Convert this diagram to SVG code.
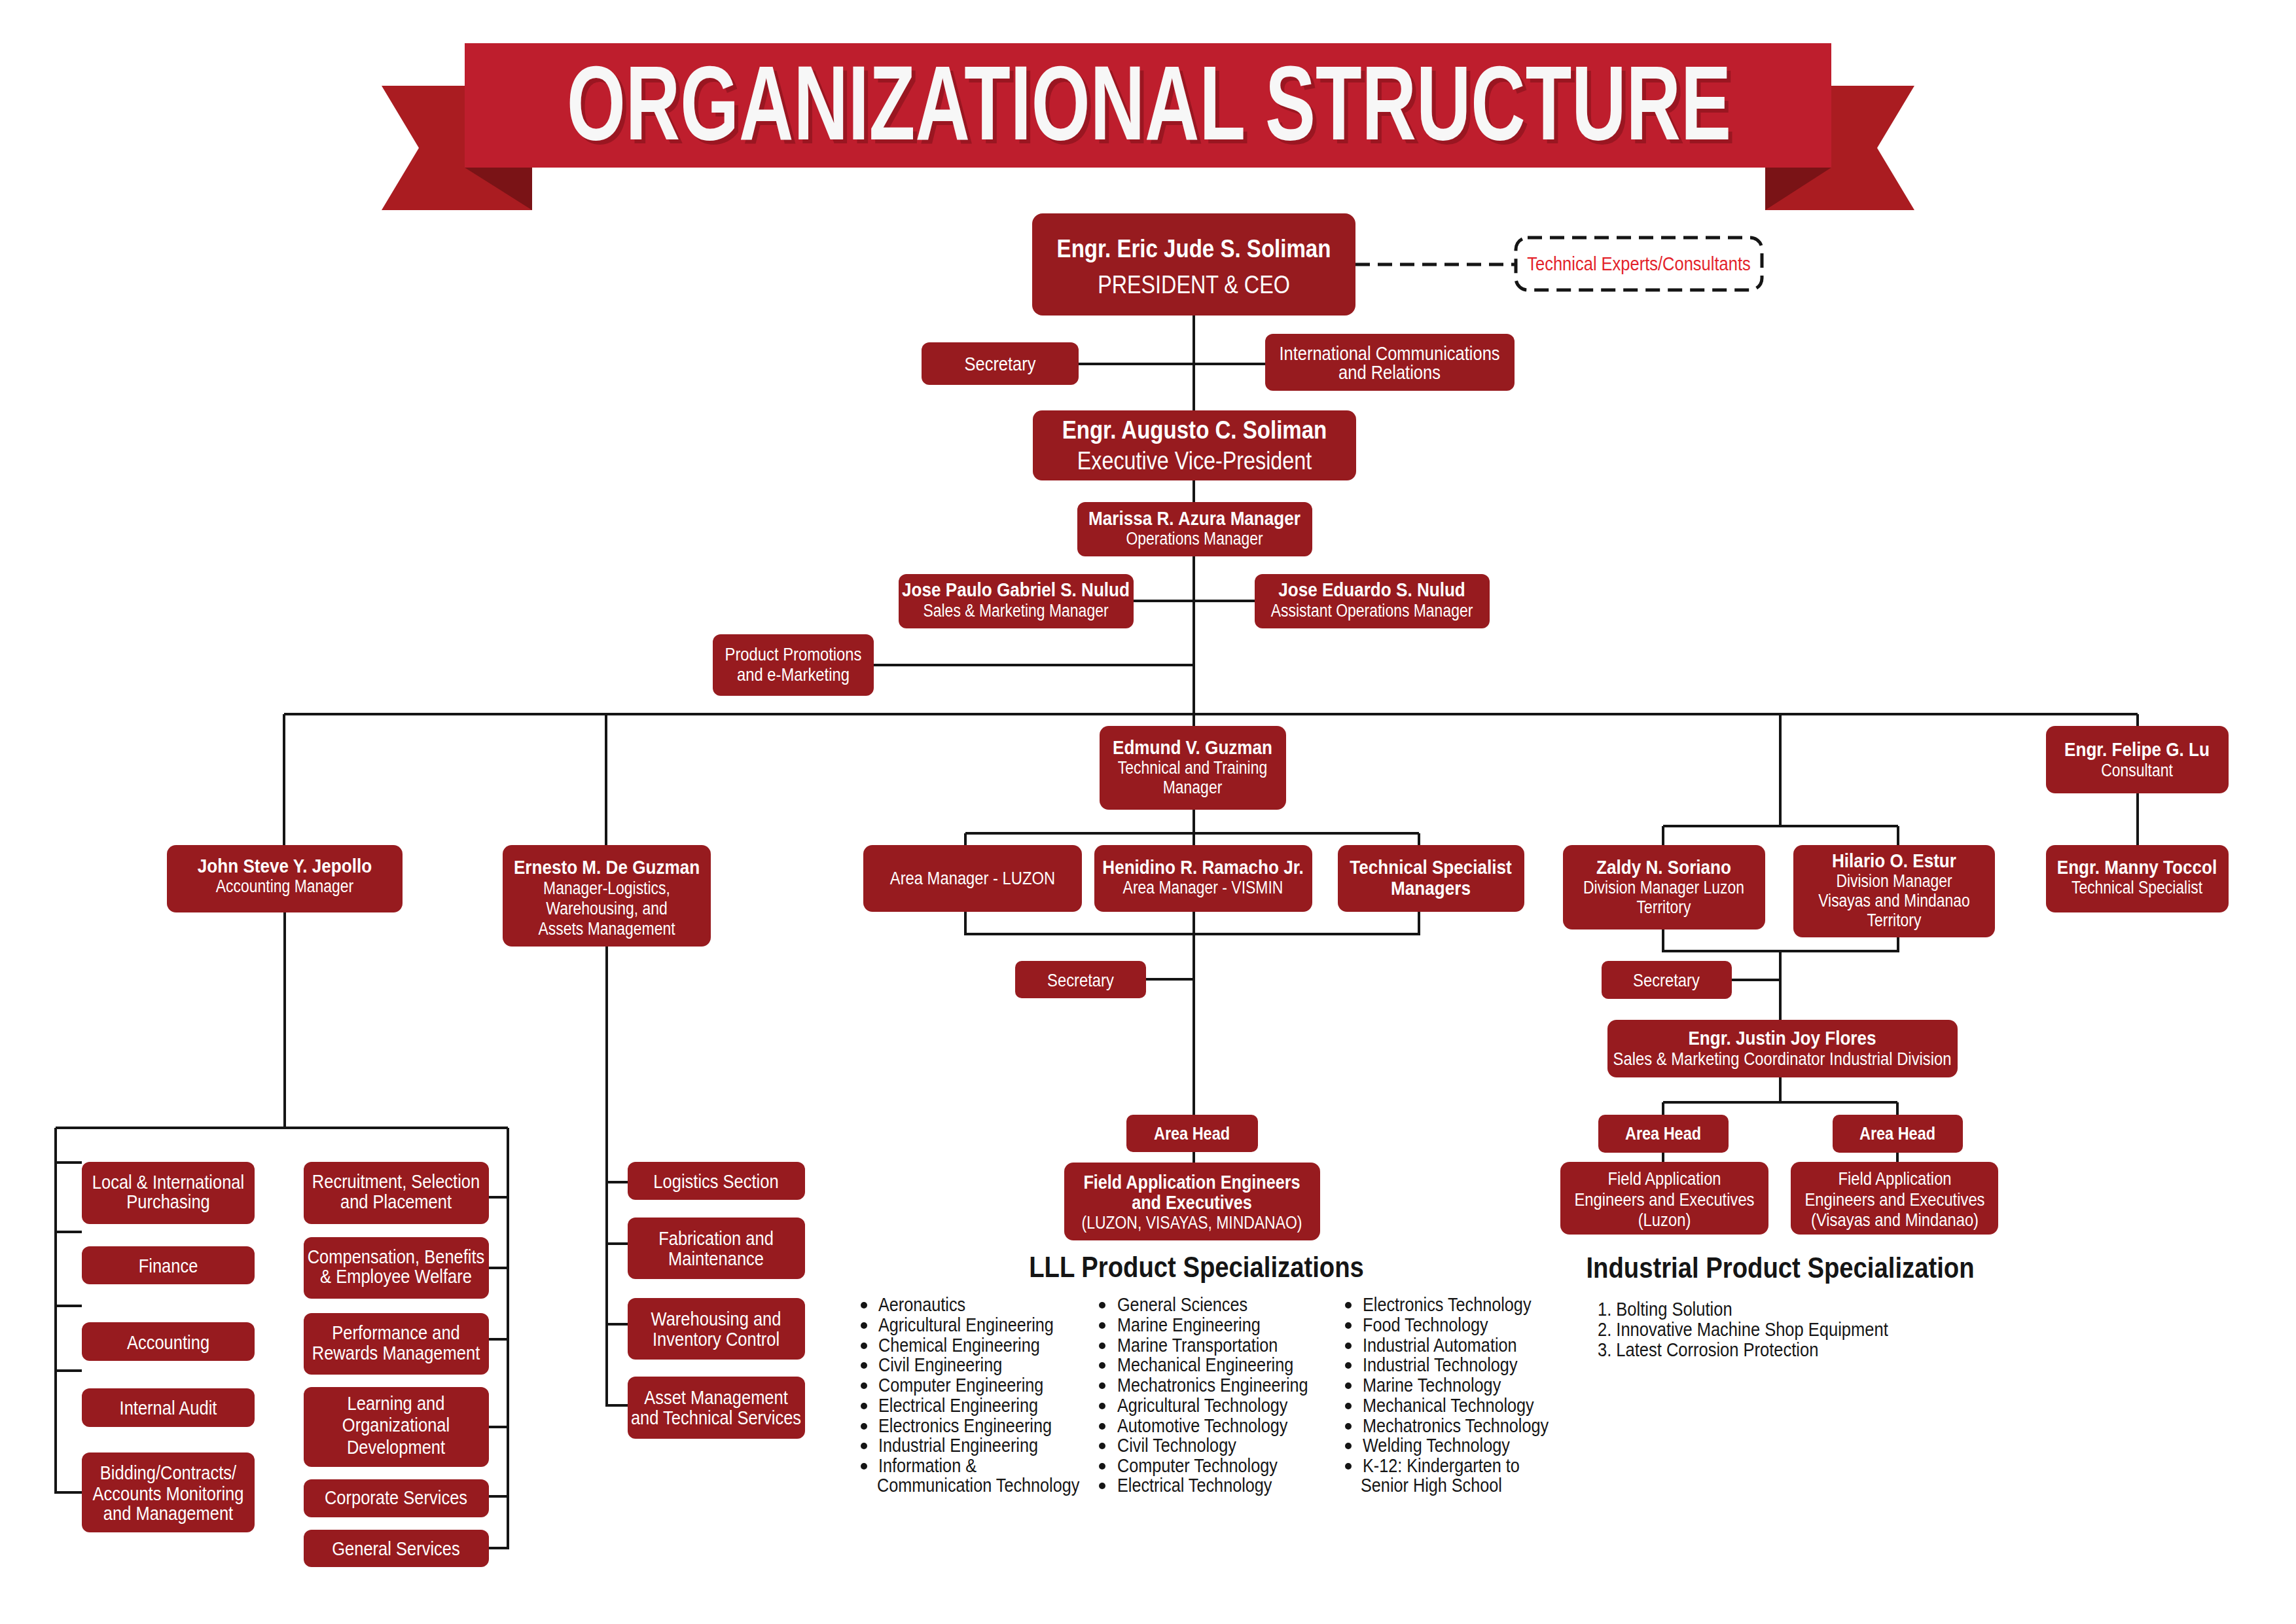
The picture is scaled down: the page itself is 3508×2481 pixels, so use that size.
<svg xmlns="http://www.w3.org/2000/svg" width="3508" height="2481" viewBox="0 0 3508 2481">
<style>
text{font-family:"Liberation Sans",Arial,sans-serif;fill:#fff;text-anchor:middle}
.b{font-weight:700}
.k{fill:#151515}
.s{text-anchor:start}
.n{fill:#971b1f}
.c{fill:none;stroke:#151515;stroke-width:4}
.d{fill:none;stroke:#151515;stroke-width:5;stroke-dasharray:22 12}
</style>
<rect width="3508" height="2481" fill="#fff"/>
<g id="banner">
<polygon points="583,131 813,131 813,321 583,321 640,226" fill="#aa1c21"/>
<polygon points="2925,131 2697,131 2697,321 2925,321 2868,226" fill="#aa1c21"/>
<polygon points="710,256 813,256 813,321" fill="#7a1316"/>
<polygon points="2798,256 2697,256 2697,321" fill="#7a1316"/>
<rect x="710" y="66" width="2088" height="190" fill="#be1e2d"/>
<text x="872" y="219" class="b s" font-size="162" textLength="1779" lengthAdjust="spacingAndGlyphs" style="fill:#7d1019;opacity:.55">ORGANIZATIONAL STRUCTURE</text>
<text x="866" y="213" class="b s" font-size="162" textLength="1779" lengthAdjust="spacingAndGlyphs" style="fill:#f7f7f7">ORGANIZATIONAL STRUCTURE</text>
</g>
<g id="connectors">
<path class="d" d="M2071 404 H2316"/>
<path class="c" d="M1824 482 V627 M1648 556 H1933 M1824 734 V1109 M1732 918 H1917 M1335 1016 H1824"/>
<path class="c" d="M434 1091 H3266 M434 1091 V1291 M926 1091 V1291 M2720 1091 V1262 M2541 1262 H2900 M2541 1262 V1291 M2900 1262 V1291 M3266 1091 V1291"/>
<path class="c" d="M1475 1273 H2168 M1475 1273 V1291 M1824 1237 V1291 M2168 1273 V1291 M1475 1393 V1427 H2168 V1393 M1824 1393 V1776 M1751 1496 H1824"/>
<path class="c" d="M2541 1420 V1453 H2900 V1432 M2720 1453 V1558 M2646 1497 H2720 M2720 1646 V1684 M2541 1684 H2899 M2541 1684 V1775 M2899 1684 V1775"/>
<path class="c" d="M927 1446 V2147 H959 M927 1806 H959 M927 1900 H959 M927 2023 H959"/>
<path class="c" d="M435 1394 V1723 M85 1723 H776 M85 1723 V2280 H125 M85 1776 H125 M85 1882 H125 M85 1995 H125 M85 2094 H125 M776 1723 V2365 H747 M747 1829 H776 M747 1937 H776 M747 2046 H776 M747 2180 H776 M747 2286 H776"/>
</g>
<g id="n-president"><rect class="n" x="1577" y="326" width="494" height="156" rx="16"/>
<text class="b" font-size="38" transform="matrix(.87 0 0 1 1824 393)">Engr. Eric Jude S. Soliman</text>
<text font-size="38" transform="matrix(.85 0 0 1 1824 448)">PRESIDENT &amp; CEO</text></g>
<g id="n-experts"><rect x="2316" y="363" width="376" height="80" rx="18" class="d"/>
<text font-size="30" style="fill:#e3232b" transform="matrix(.85 0 0 1 2504 413)">Technical Experts/Consultants</text></g>
<g id="n-secretary1"><rect class="n" x="1408" y="523" width="240" height="65" rx="12"/>
<text font-size="30" transform="matrix(.85 0 0 1 1528 566)">Secretary</text></g>
<g id="n-icr"><rect class="n" x="1933" y="510" width="381" height="87" rx="12"/>
<text font-size="30" transform="matrix(.85 0 0 1 2123 550)">International Communications</text>
<text font-size="30" transform="matrix(.85 0 0 1 2123 579)">and Relations</text></g>
<g id="n-evp"><rect class="n" x="1578" y="627" width="494" height="107" rx="14"/>
<text class="b" font-size="38" transform="matrix(.87 0 0 1 1825 670)">Engr. Augusto C. Soliman</text>
<text font-size="38" transform="matrix(.85 0 0 1 1825 717)">Executive Vice-President</text></g>
<g id="n-marissa"><rect class="n" x="1646" y="767" width="359" height="83" rx="12"/>
<text class="b" font-size="30" transform="matrix(.87 0 0 1 1825 802)">Marissa R. Azura Manager</text>
<text font-size="27" transform="matrix(.85 0 0 1 1825 832)">Operations Manager</text></g>
<g id="n-josepaulo"><rect class="n" x="1373" y="877" width="359" height="83" rx="12"/>
<text class="b" font-size="30" transform="matrix(.87 0 0 1 1552 911)">Jose Paulo Gabriel S. Nulud</text>
<text font-size="27" transform="matrix(.85 0 0 1 1552 942)">Sales &amp; Marketing Manager</text></g>
<g id="n-joseeduardo"><rect class="n" x="1917" y="877" width="359" height="83" rx="12"/>
<text class="b" font-size="30" transform="matrix(.87 0 0 1 2096 911)">Jose Eduardo S. Nulud</text>
<text font-size="27" transform="matrix(.85 0 0 1 2096 942)">Assistant Operations Manager</text></g>
<g id="n-product"><rect class="n" x="1089" y="969" width="246" height="94" rx="12"/>
<text font-size="28" transform="matrix(.85 0 0 1 1212 1009)">Product Promotions</text>
<text font-size="28" transform="matrix(.85 0 0 1 1212 1040)">and e-Marketing</text></g>
<g id="n-john"><rect class="n" x="255" y="1291" width="360" height="103" rx="14"/>
<text class="b" font-size="30" transform="matrix(.87 0 0 1 435 1333)">John Steve Y. Jepollo</text>
<text font-size="27" transform="matrix(.85 0 0 1 435 1363)">Accounting Manager</text></g>
<g id="n-ernesto"><rect class="n" x="768" y="1291" width="318" height="155" rx="14"/>
<text class="b" font-size="30" transform="matrix(.87 0 0 1 927 1335)">Ernesto M. De Guzman</text>
<text font-size="27" transform="matrix(.85 0 0 1 927 1366)">Manager-Logistics,</text>
<text font-size="27" transform="matrix(.85 0 0 1 927 1397)">Warehousing, and</text>
<text font-size="27" transform="matrix(.85 0 0 1 927 1428)">Assets Management</text></g>
<g id="n-edmund"><rect class="n" x="1680" y="1109" width="285" height="128" rx="14"/>
<text class="b" font-size="30" transform="matrix(.87 0 0 1 1822 1152)">Edmund V. Guzman</text>
<text font-size="27" transform="matrix(.85 0 0 1 1822 1182)">Technical and Training</text>
<text font-size="27" transform="matrix(.85 0 0 1 1822 1212)">Manager</text></g>
<g id="n-luzon"><rect class="n" x="1319" y="1291" width="334" height="102" rx="14"/>
<text font-size="28" transform="matrix(.85 0 0 1 1486 1351)">Area Manager - LUZON</text></g>
<g id="n-henidino"><rect class="n" x="1672" y="1291" width="333" height="102" rx="14"/>
<text class="b" font-size="30" transform="matrix(.87 0 0 1 1838 1335)">Henidino R. Ramacho Jr.</text>
<text font-size="27" transform="matrix(.85 0 0 1 1838 1365)">Area Manager - VISMIN</text></g>
<g id="n-tsm"><rect class="n" x="2044" y="1291" width="285" height="102" rx="14"/>
<text class="b" font-size="30" transform="matrix(.87 0 0 1 2186 1335)">Technical Specialist</text>
<text class="b" font-size="30" transform="matrix(.87 0 0 1 2186 1367)">Managers</text></g>
<g id="n-zaldy"><rect class="n" x="2388" y="1291" width="309" height="129" rx="14"/>
<text class="b" font-size="30" transform="matrix(.87 0 0 1 2542 1335)">Zaldy N. Soriano</text>
<text font-size="27" transform="matrix(.85 0 0 1 2542 1365)">Division Manager Luzon</text>
<text font-size="27" transform="matrix(.85 0 0 1 2542 1395)">Territory</text></g>
<g id="n-hilario"><rect class="n" x="2740" y="1291" width="308" height="141" rx="14"/>
<text class="b" font-size="30" transform="matrix(.87 0 0 1 2894 1325)">Hilario O. Estur</text>
<text font-size="27" transform="matrix(.85 0 0 1 2894 1355)">Division Manager</text>
<text font-size="27" transform="matrix(.85 0 0 1 2894 1385)">Visayas and Mindanao</text>
<text font-size="27" transform="matrix(.85 0 0 1 2894 1415)">Territory</text></g>
<g id="n-felipe"><rect class="n" x="3126" y="1109" width="279" height="103" rx="14"/>
<text class="b" font-size="30" transform="matrix(.87 0 0 1 3265 1155)">Engr. Felipe G. Lu</text>
<text font-size="27" transform="matrix(.85 0 0 1 3265 1186)">Consultant</text></g>
<g id="n-manny"><rect class="n" x="3126" y="1291" width="279" height="103" rx="14"/>
<text class="b" font-size="30" transform="matrix(.87 0 0 1 3265 1335)">Engr. Manny Toccol</text>
<text font-size="27" transform="matrix(.85 0 0 1 3265 1365)">Technical Specialist</text></g>
<g id="n-secretary2"><rect class="n" x="1551" y="1468" width="200" height="57" rx="10"/>
<text font-size="28" transform="matrix(.85 0 0 1 1651 1507)">Secretary</text></g>
<g id="n-areahead-c"><rect class="n" x="1721" y="1703" width="201" height="57" rx="10"/>
<text class="b" font-size="27" transform="matrix(.87 0 0 1 1821 1741)">Area Head</text></g>
<g id="n-fae-c"><rect class="n" x="1626" y="1776" width="391" height="119" rx="14"/>
<text class="b" font-size="29" transform="matrix(.87 0 0 1 1821 1816)">Field Application Engineers</text>
<text class="b" font-size="29" transform="matrix(.87 0 0 1 1821 1847)">and Executives</text>
<text font-size="27" transform="matrix(.85 0 0 1 1821 1877)">(LUZON, VISAYAS, MINDANAO)</text></g>
<g id="n-secretary3"><rect class="n" x="2447" y="1468" width="199" height="58" rx="10"/>
<text font-size="28" transform="matrix(.85 0 0 1 2546 1507)">Secretary</text></g>
<g id="n-justin"><rect class="n" x="2456" y="1558" width="535" height="88" rx="14"/>
<text class="b" font-size="30" transform="matrix(.87 0 0 1 2723 1596)">Engr. Justin Joy Flores</text>
<text font-size="28" transform="matrix(.85 0 0 1 2723 1627)">Sales &amp; Marketing Coordinator Industrial Division</text></g>
<g id="n-areahead-l"><rect class="n" x="2442" y="1703" width="199" height="58" rx="10"/>
<text class="b" font-size="27" transform="matrix(.87 0 0 1 2541 1741)">Area Head</text></g>
<g id="n-areahead-r"><rect class="n" x="2800" y="1703" width="199" height="58" rx="10"/>
<text class="b" font-size="27" transform="matrix(.87 0 0 1 2899 1741)">Area Head</text></g>
<g id="n-fae-l"><rect class="n" x="2384" y="1775" width="318" height="111" rx="14"/>
<text font-size="28" transform="matrix(.85 0 0 1 2543 1810)">Field Application</text>
<text font-size="28" transform="matrix(.85 0 0 1 2543 1842)">Engineers and  Executives</text>
<text font-size="28" transform="matrix(.85 0 0 1 2543 1873)">(Luzon)</text></g>
<g id="n-fae-r"><rect class="n" x="2736" y="1775" width="317" height="111" rx="14"/>
<text font-size="28" transform="matrix(.85 0 0 1 2895 1810)">Field Application</text>
<text font-size="28" transform="matrix(.85 0 0 1 2895 1842)">Engineers and  Executives</text>
<text font-size="28" transform="matrix(.85 0 0 1 2895 1873)">(Visayas and Mindanao)</text></g>
<g id="n-local"><rect class="n" x="125" y="1775" width="264" height="95" rx="12"/>
<text font-size="30" transform="matrix(.85 0 0 1 257 1816)">Local &amp; International</text>
<text font-size="30" transform="matrix(.85 0 0 1 257 1846)">Purchasing</text></g>
<g id="n-finance"><rect class="n" x="125" y="1904" width="264" height="58" rx="12"/>
<text font-size="30" transform="matrix(.85 0 0 1 257 1944)">Finance</text></g>
<g id="n-accounting"><rect class="n" x="125" y="2020" width="264" height="59" rx="12"/>
<text font-size="30" transform="matrix(.85 0 0 1 257 2061)">Accounting</text></g>
<g id="n-audit"><rect class="n" x="125" y="2121" width="264" height="59" rx="12"/>
<text font-size="30" transform="matrix(.85 0 0 1 257 2161)">Internal Audit</text></g>
<g id="n-bidding"><rect class="n" x="125" y="2219" width="264" height="122" rx="12"/>
<text font-size="30" transform="matrix(.85 0 0 1 257 2260)">Bidding/Contracts/</text>
<text font-size="30" transform="matrix(.85 0 0 1 257 2292)">Accounts Monitoring</text>
<text font-size="30" transform="matrix(.85 0 0 1 257 2322)">and Management</text></g>
<g id="n-recruitment"><rect class="n" x="464" y="1775" width="283" height="95" rx="12"/>
<text font-size="30" transform="matrix(.85 0 0 1 605 1815)">Recruitment, Selection</text>
<text font-size="30" transform="matrix(.85 0 0 1 605 1846)">and Placement</text></g>
<g id="n-compensation"><rect class="n" x="464" y="1890" width="283" height="94" rx="12"/>
<text font-size="30" transform="matrix(.85 0 0 1 605 1930)">Compensation, Benefits</text>
<text font-size="30" transform="matrix(.85 0 0 1 605 1960)">&amp; Employee Welfare</text></g>
<g id="n-performance"><rect class="n" x="464" y="2006" width="283" height="94" rx="12"/>
<text font-size="30" transform="matrix(.85 0 0 1 605 2046)">Performance and</text>
<text font-size="30" transform="matrix(.85 0 0 1 605 2077)">Rewards Management</text></g>
<g id="n-learning"><rect class="n" x="464" y="2119" width="283" height="122" rx="12"/>
<text font-size="30" transform="matrix(.85 0 0 1 605 2154)">Learning and</text>
<text font-size="30" transform="matrix(.85 0 0 1 605 2187)">Organizational</text>
<text font-size="30" transform="matrix(.85 0 0 1 605 2221)">Development</text></g>
<g id="n-corporate"><rect class="n" x="464" y="2260" width="283" height="58" rx="12"/>
<text font-size="30" transform="matrix(.85 0 0 1 605 2298)">Corporate Services</text></g>
<g id="n-general"><rect class="n" x="464" y="2337" width="283" height="57" rx="12"/>
<text font-size="30" transform="matrix(.85 0 0 1 605 2376)">General Services</text></g>
<g id="n-logistics"><rect class="n" x="959" y="1775" width="271" height="58" rx="12"/>
<text font-size="30" transform="matrix(.85 0 0 1 1094 1815)">Logistics Section</text></g>
<g id="n-fabrication"><rect class="n" x="959" y="1860" width="271" height="94" rx="12"/>
<text font-size="30" transform="matrix(.85 0 0 1 1094 1902)">Fabrication and</text>
<text font-size="30" transform="matrix(.85 0 0 1 1094 1933)">Maintenance</text></g>
<g id="n-warehousing"><rect class="n" x="959" y="1983" width="271" height="94" rx="12"/>
<text font-size="30" transform="matrix(.85 0 0 1 1094 2025)">Warehousing and</text>
<text font-size="30" transform="matrix(.85 0 0 1 1094 2056)">Inventory Control</text></g>
<g id="n-asset"><rect class="n" x="959" y="2103" width="271" height="95" rx="12"/>
<text font-size="30" transform="matrix(.85 0 0 1 1094 2145)">Asset Management</text>
<text font-size="30" transform="matrix(.85 0 0 1 1094 2176)">and Technical Services</text></g>
<g id="lll-specializations">
<text class="b k" font-size="44" transform="matrix(.87 0 0 1 1828 1951)">LLL Product Specializations</text>
<g fill="#151515">
<circle cx="1320" cy="1994" r="5"/><circle cx="1320" cy="2025" r="5"/><circle cx="1320" cy="2056" r="5"/><circle cx="1320" cy="2086" r="5"/><circle cx="1320" cy="2117" r="5"/><circle cx="1320" cy="2148" r="5"/><circle cx="1320" cy="2179" r="5"/><circle cx="1320" cy="2209" r="5"/><circle cx="1320" cy="2240" r="5"/>
<circle cx="1684" cy="1994" r="5"/><circle cx="1684" cy="2025" r="5"/><circle cx="1684" cy="2056" r="5"/><circle cx="1684" cy="2086" r="5"/><circle cx="1684" cy="2117" r="5"/><circle cx="1684" cy="2148" r="5"/><circle cx="1684" cy="2179" r="5"/><circle cx="1684" cy="2209" r="5"/><circle cx="1684" cy="2240" r="5"/><circle cx="1684" cy="2270" r="5"/>
<circle cx="2060" cy="1994" r="5"/><circle cx="2060" cy="2025" r="5"/><circle cx="2060" cy="2056" r="5"/><circle cx="2060" cy="2086" r="5"/><circle cx="2060" cy="2117" r="5"/><circle cx="2060" cy="2148" r="5"/><circle cx="2060" cy="2179" r="5"/><circle cx="2060" cy="2209" r="5"/><circle cx="2060" cy="2240" r="5"/>
</g>
<text class="k s" font-size="29" transform="matrix(.87 0 0 1 1342 2003)">Aeronautics</text>
<text class="k s" font-size="29" transform="matrix(.87 0 0 1 1342 2034)">Agricultural Engineering</text>
<text class="k s" font-size="29" transform="matrix(.87 0 0 1 1342 2065)">Chemical Engineering</text>
<text class="k s" font-size="29" transform="matrix(.87 0 0 1 1342 2095)">Civil Engineering</text>
<text class="k s" font-size="29" transform="matrix(.87 0 0 1 1342 2126)">Computer Engineering</text>
<text class="k s" font-size="29" transform="matrix(.87 0 0 1 1342 2157)">Electrical Engineering</text>
<text class="k s" font-size="29" transform="matrix(.87 0 0 1 1342 2188)">Electronics Engineering</text>
<text class="k s" font-size="29" transform="matrix(.87 0 0 1 1342 2218)">Industrial Engineering</text>
<text class="k s" font-size="29" transform="matrix(.87 0 0 1 1342 2249)">Information &amp;</text>
<text class="k s" font-size="29" transform="matrix(.87 0 0 1 1340 2279)">Communication Technology</text>
<text class="k s" font-size="29" transform="matrix(.87 0 0 1 1707 2003)">General Sciences</text>
<text class="k s" font-size="29" transform="matrix(.87 0 0 1 1707 2034)">Marine Engineering</text>
<text class="k s" font-size="29" transform="matrix(.87 0 0 1 1707 2065)">Marine Transportation</text>
<text class="k s" font-size="29" transform="matrix(.87 0 0 1 1707 2095)">Mechanical Engineering</text>
<text class="k s" font-size="29" transform="matrix(.87 0 0 1 1707 2126)">Mechatronics Engineering</text>
<text class="k s" font-size="29" transform="matrix(.87 0 0 1 1707 2157)">Agricultural Technology</text>
<text class="k s" font-size="29" transform="matrix(.87 0 0 1 1707 2188)">Automotive Technology</text>
<text class="k s" font-size="29" transform="matrix(.87 0 0 1 1707 2218)">Civil Technology</text>
<text class="k s" font-size="29" transform="matrix(.87 0 0 1 1707 2249)">Computer Technology</text>
<text class="k s" font-size="29" transform="matrix(.87 0 0 1 1707 2279)">Electrical Technology</text>
<text class="k s" font-size="29" transform="matrix(.87 0 0 1 2082 2003)">Electronics Technology</text>
<text class="k s" font-size="29" transform="matrix(.87 0 0 1 2082 2034)">Food Technology</text>
<text class="k s" font-size="29" transform="matrix(.87 0 0 1 2082 2065)">Industrial Automation</text>
<text class="k s" font-size="29" transform="matrix(.87 0 0 1 2082 2095)">Industrial Technology</text>
<text class="k s" font-size="29" transform="matrix(.87 0 0 1 2082 2126)">Marine Technology</text>
<text class="k s" font-size="29" transform="matrix(.87 0 0 1 2082 2157)">Mechanical Technology</text>
<text class="k s" font-size="29" transform="matrix(.87 0 0 1 2082 2188)">Mechatronics Technology</text>
<text class="k s" font-size="29" transform="matrix(.87 0 0 1 2082 2218)">Welding Technology</text>
<text class="k s" font-size="29" transform="matrix(.87 0 0 1 2082 2249)">K-12: Kindergarten to</text>
<text class="k s" font-size="29" transform="matrix(.87 0 0 1 2079 2279)">Senior High School</text>
</g>
<g id="industrial-specialization">
<text class="b k" font-size="44" transform="matrix(.87 0 0 1 2720 1952)">Industrial Product Specialization</text>
<text class="k s" font-size="29" transform="matrix(.88 0 0 1 2441 2010)">1. Bolting Solution</text>
<text class="k s" font-size="29" transform="matrix(.88 0 0 1 2441 2041)">2. Innovative Machine Shop Equipment</text>
<text class="k s" font-size="29" transform="matrix(.88 0 0 1 2441 2072)">3. Latest Corrosion Protection</text>
</g>
</svg>
